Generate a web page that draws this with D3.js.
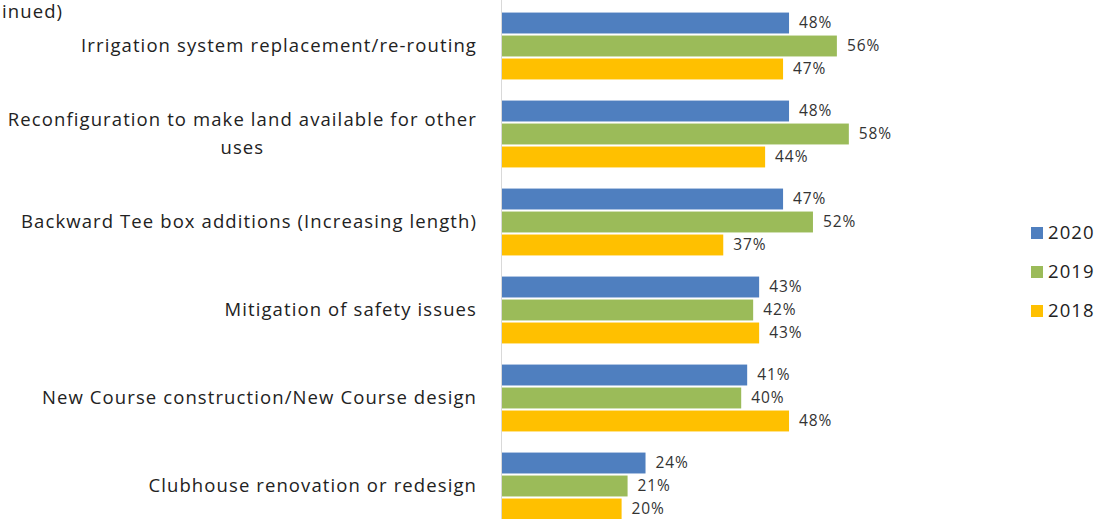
<!DOCTYPE html>
<html>
<head>
<meta charset="utf-8">
<script src="https://cdn.jsdelivr.net/npm/d3@7"></script>
<style>
  body { margin: 0; background: #fff; }
  svg { display: block; }
</style>
</head>
<body>
<script>
// Chart data
const categories = [
  ["Irrigation system replacement/re-routing"],
  ["Reconfiguration to make land available for other", "uses"],
  ["Backward Tee box additions (Increasing length)"],
  ["Mitigation of safety issues"],
  ["New Course construction/New Course design"],
  ["Clubhouse renovation or redesign"]
];
const seriesNames = ["2020", "2019", "2018"];
const values2020 = [48, 48, 47, 43, 41, 24];
const values2019 = [56, 58, 52, 42, 40, 21];
const values2018 = [47, 44, 37, 43, 48, 20];
const colors = ["#4f7fbf", "#9bbb59", "#ffc000"];

const width = 1101, height = 519;
const font = "'Open Sans', sans-serif";

const svg = d3.select("body").append("svg")
  .attr("width", width)
  .attr("height", height)
  .style("font-family", font);

const allValues = [values2020, values2019, values2018];

// scales
const x = d3.scaleLinear().domain([0, 100]).range([502, 1100]);
const y = d3.scaleBand()
  .domain(d3.range(categories.length))
  .range([2, 530])
  .paddingInner(0.24)
  .paddingOuter(0.12);
const ySub = d3.scaleBand()
  .domain(seriesNames)
  .range([0, y.bandwidth()])
  .paddingInner(0.09);

// axis line
svg.append("line")
  .attr("x1", 501.5).attr("x2", 501.5)
  .attr("y1", 0).attr("y2", height)
  .attr("stroke", "#d9d9d9")
  .attr("stroke-width", 1);

const labelStyle = t => t
  .attr("font-size", 18.5)
  .attr("letter-spacing", 1.1)
  .attr("fill", "#222");

// title text continued from previous page
svg.append("text")
  .attr("x", 2).attr("y", 18)
  .call(labelStyle)
  .text("inued)");

const groups = svg.selectAll("g.grp")
  .data(categories)
  .join("g")
  .attr("class", "grp")
  .attr("transform", (d, i) => `translate(0,${y(i)})`);

seriesNames.forEach((name, s) => {
  groups.append("rect")
    .attr("x", x(0))
    .attr("y", ySub(name))
    .attr("width", (d, i) => x(allValues[s][i]) - x(0))
    .attr("height", ySub.bandwidth())
    .attr("fill", colors[s]);

  groups.append("text")
    .attr("x", (d, i) => x(allValues[s][i]) + 10)
    .attr("y", ySub(name) + ySub.bandwidth() / 2)
    .attr("dy", "0.35em")
    .attr("font-size", 15.5)
    .attr("letter-spacing", 0.9)
    .attr("fill", "#333")
    .text((d, i) => allValues[s][i] + "%");
});

// category labels
groups.each(function (lines) {
  const g = d3.select(this);
  const cy = y.bandwidth() / 2;
  const lh = 28;
  const t = g.append("text").call(labelStyle);
  if (lines.length === 1) {
    t.attr("x", 477).attr("y", cy).attr("dy", "0.35em")
      .attr("text-anchor", "end").text(lines[0]);
  } else {
    t.attr("text-anchor", "end").attr("x", 477)
      .attr("y", cy - lh / 2).attr("dy", "0.35em").text(lines[0]);
    const w = t.node().getComputedTextLength();
    g.append("text").call(labelStyle)
      .attr("text-anchor", "middle")
      .attr("x", 477 - w / 2)
      .attr("y", cy + lh / 2).attr("dy", "0.35em")
      .text(lines[1]);
  }
});

// legend
const legend = svg.append("g")
  .selectAll("g")
  .data(seriesNames)
  .join("g")
  .attr("transform", (d, i) => `translate(1031,${233 + i * 39})`);

legend.append("rect")
  .attr("x", 0).attr("y", -6)
  .attr("width", 12).attr("height", 12)
  .attr("fill", (d, i) => colors[i]);

legend.append("text")
  .attr("x", 17).attr("dy", "0.35em")
  .attr("font-size", 18.5)
  .attr("letter-spacing", 1.1)
  .attr("fill", "#222")
  .text(d => d);
</script>
</body>
</html>
